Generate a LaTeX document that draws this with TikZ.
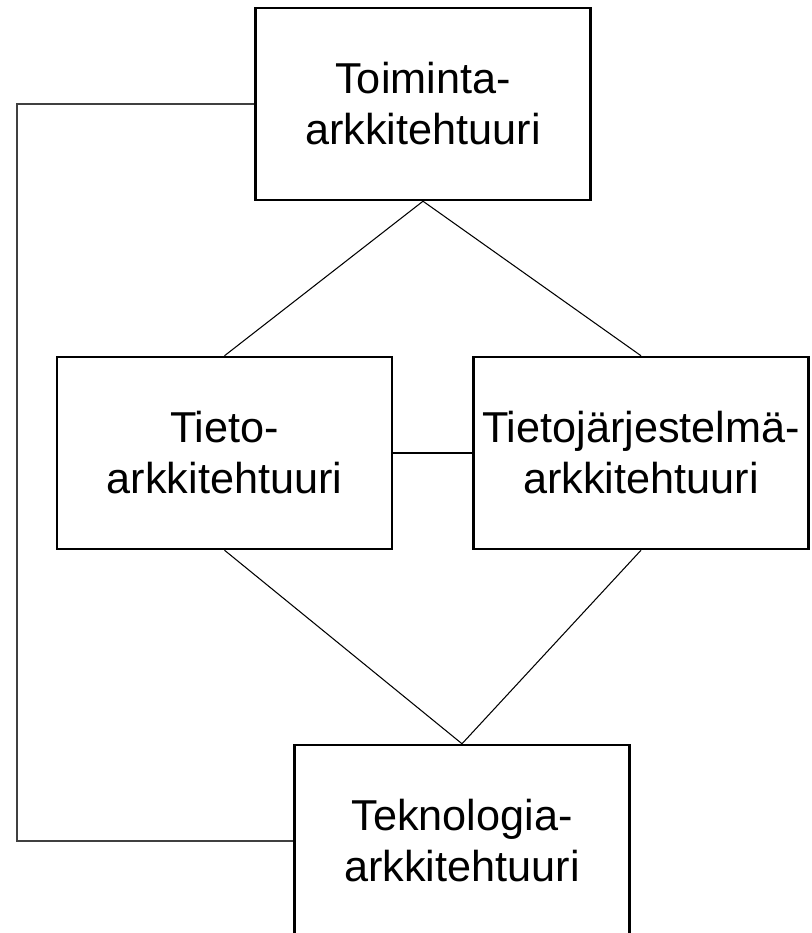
\documentclass[tikz,border=0pt]{standalone}
\usepackage{fontspec}
\setmainfont{Liberation Sans}
\usetikzlibrary{positioning}

\begin{document}
\begin{tikzpicture}[
    arch/.style={draw, line width=1.4pt, minimum width=6.7cm, minimum height=3.84cm,
      align=center, inner sep=0pt, font=\fontsize{24.6}{29}\selectfont},
    link/.style={line width=0.6pt}
  ]
  \useasboundingbox (0,0) rectangle (16.22,18.66);
  \node[arch] (toiminta) at (8.46,16.58) {Toiminta-\\arkkitehtuuri};
  \node[arch] (tieto) at (4.49,9.60) {Tieto-\\arkkitehtuuri};
  \node[arch] (tjarj) at (12.82,9.60) {Tietojärjestelmä-\\arkkitehtuuri};
  \node[arch] (tekno) at (9.24,1.84) {Teknologia-\\arkkitehtuuri};
  \coordinate (kulma) at (0.34,16.58);

  \draw[link] (toiminta.south) -- (tieto.north);
  \draw[link] (toiminta.south) -- (tjarj.north);
  \draw[link] (tieto.east) -- (tjarj.west);
  \draw[link] (tieto.south) -- (tekno.north);
  \draw[link] (tjarj.south) -- (tekno.north);
  \draw[link, black!75] (toiminta.west) -- (kulma) |- (tekno.west);
\end{tikzpicture}
\end{document}
